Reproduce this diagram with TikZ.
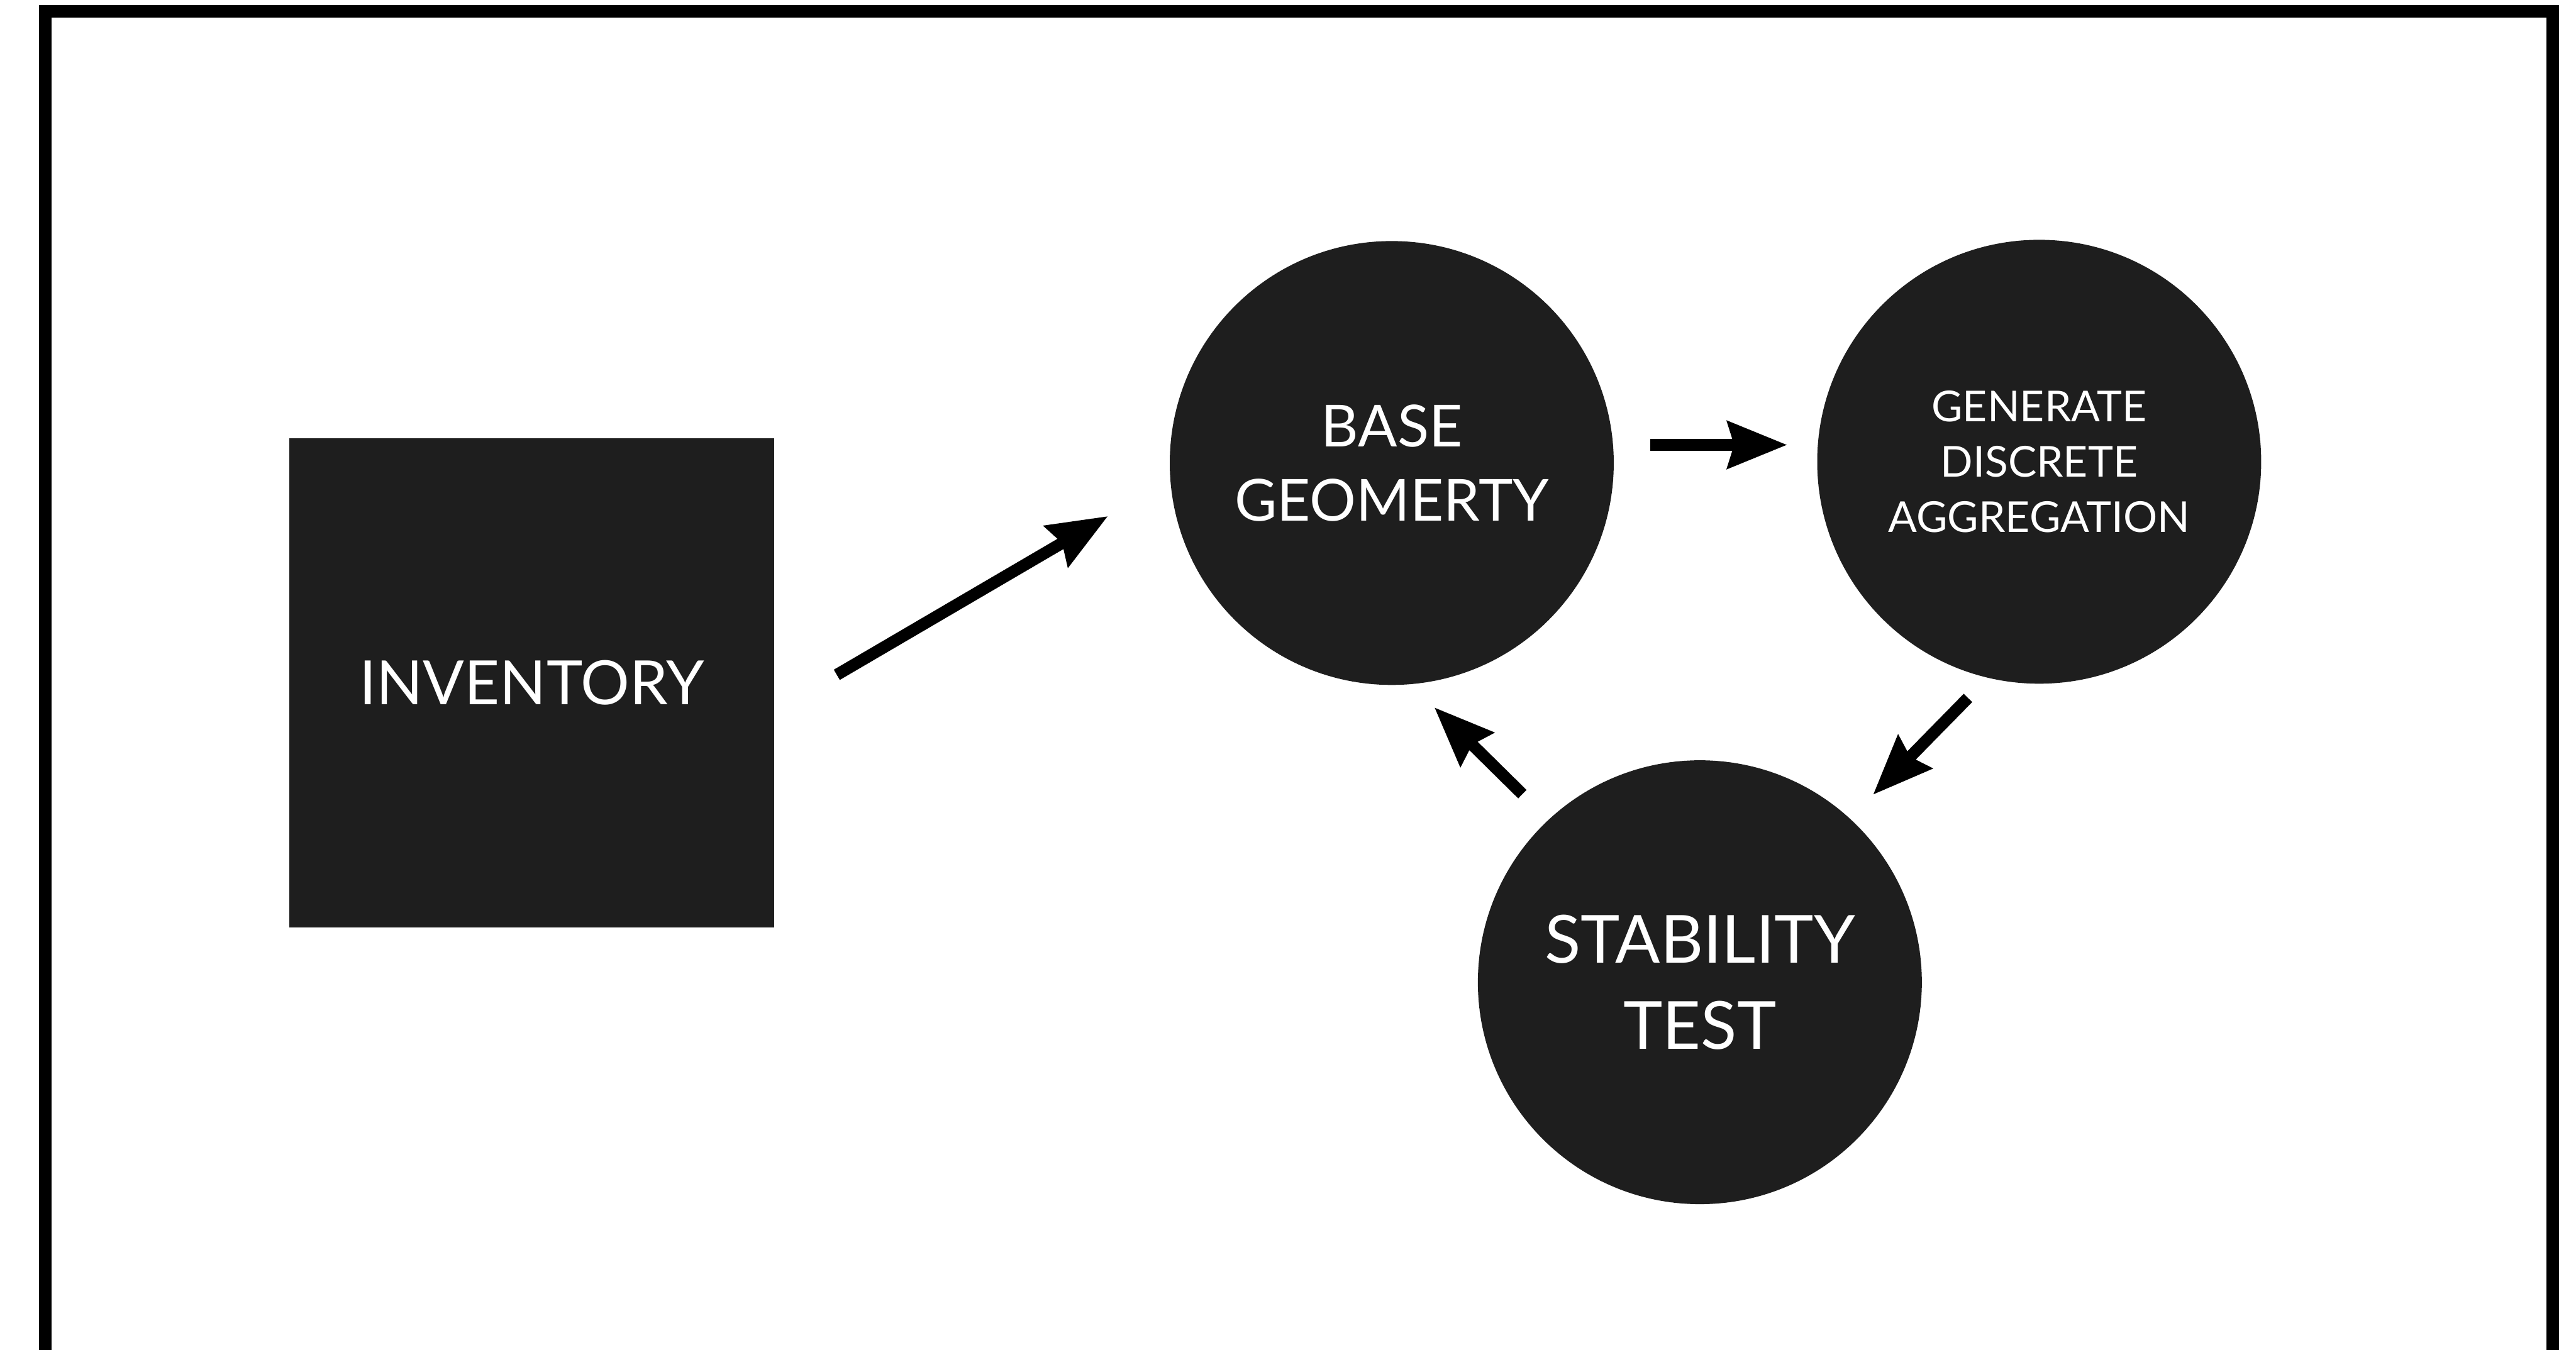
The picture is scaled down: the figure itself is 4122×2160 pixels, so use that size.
\documentclass[tikz,border=0pt]{standalone}
\usepackage{fontspec}
\setmainfont{Lato}
\usetikzlibrary{arrows.meta}
\definecolor{blockfill}{HTML}{1E1E1E}
\tikzset{
  block/.style={fill=blockfill, draw=none, text=white, align=center, inner sep=0pt},
  roundblock/.style={block, circle, minimum size=7.1cm},
  squareblock/.style={block, rectangle, minimum width=7.75cm, minimum height=7.82cm},
  flow/.style={line width=5.4pt, black, -{Stealth[length=0.95cm, width=0.74cm, inset=0.1cm]}},
  frame/.style={line width=5.6pt, black}
}
\begin{document}
\begin{tikzpicture}[x=0.01cm, y=-0.01cm]
\clip (0,0) rectangle (4122,2160);
\fill[white] (0,0) rectangle (4122,2160);
\draw[frame] (72.5,18) rectangle (4084.5,2170);

\node[squareblock, font=\fontsize{27.8}{34}\selectfont] (inv) at (851,1093) {INVENTORY};
\node[roundblock, font=\fontsize{26.4}{33.8}\selectfont] (base) at (2227,741) {BASE\\GEOMERTY};
\node[roundblock, font=\fontsize{19.4}{25.2}\selectfont] (gen) at (3263,739) {GENERATE\\DISCRETE\\AGGREGATION};
\node[roundblock, font=\fontsize{30.2}{39}\selectfont] (stab) at (2720,1572) {STABILITY\\TEST};

\coordinate (a1s) at (1339,1080);
\coordinate (a1e) at (1773,826);
\coordinate (a2s) at (2641,712);
\coordinate (a2e) at (2860,712);
\coordinate (a3s) at (3149,1117);
\coordinate (a3e) at (2997,1272);
\coordinate (a4s) at (2436,1271);
\coordinate (a4e) at (2295,1132);

\draw[flow] (a1s) -- (a1e);
\draw[flow] (a2s) -- (a2e);
\draw[flow] (a3s) -- (a3e);
\draw[flow] (a4s) -- (a4e);
\end{tikzpicture}
\end{document}
